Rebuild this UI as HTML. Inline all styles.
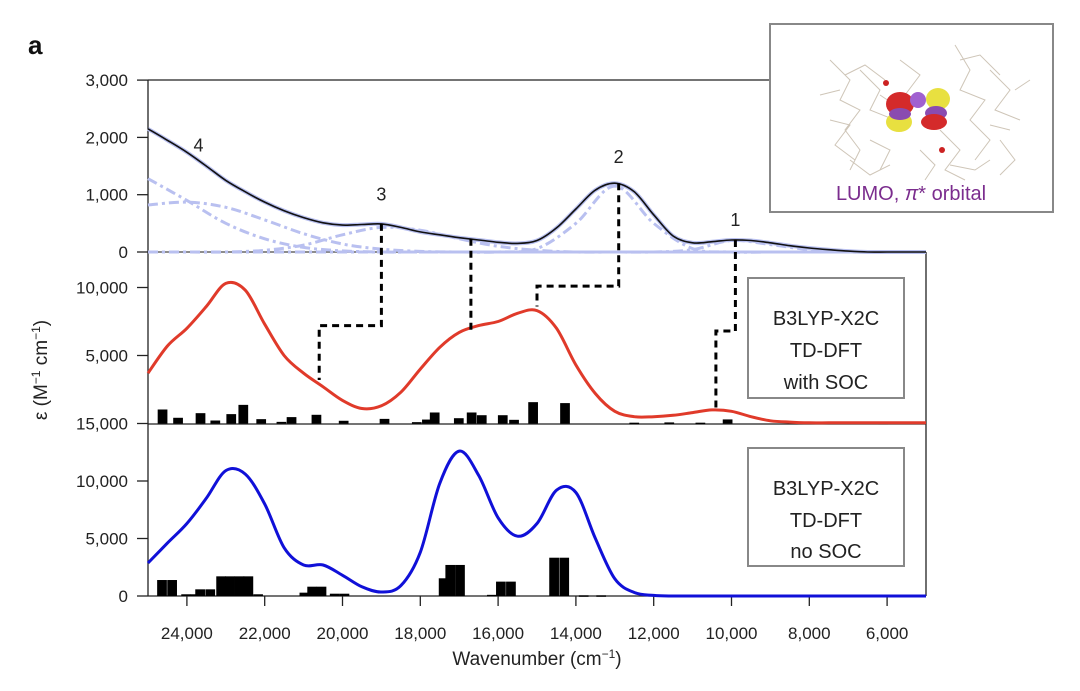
<!DOCTYPE html>
<html><head><meta charset="utf-8">
<style>
html,body{margin:0;padding:0;background:#fff;}
body{width:1080px;height:686px;overflow:hidden;position:relative;font-family:"Liberation Sans",sans-serif;}
svg text{font-family:"Liberation Sans",sans-serif;}
</style></head>
<body>
<svg id="chart" width="1080" height="686" viewBox="0 0 1080 686" xmlns="http://www.w3.org/2000/svg">
<text x="28" y="54" font-size="26" font-weight="bold" fill="#111">a</text>
<g id="axes"></g>
<g id="marks"></g>
<g>
<rect x="748" y="278" width="156" height="120" fill="#fff" stroke="#888" stroke-width="2"/>
<text x="826" y="325" font-size="20" text-anchor="middle" fill="#222">B3LYP-X2C</text>
<text x="826" y="357" font-size="20" text-anchor="middle" fill="#222">TD-DFT</text>
<text x="826" y="389" font-size="20" text-anchor="middle" fill="#222">with SOC</text>
</g>
<g>
<rect x="748" y="448" width="156" height="118" fill="#fff" stroke="#888" stroke-width="2"/>
<text x="826" y="495" font-size="20" text-anchor="middle" fill="#222">B3LYP-X2C</text>
<text x="826" y="527" font-size="20" text-anchor="middle" fill="#222">TD-DFT</text>
<text x="826" y="558" font-size="20" text-anchor="middle" fill="#222">no SOC</text>
</g>
<g>
<rect x="770" y="24" width="283" height="188" fill="#fff" stroke="#888" stroke-width="2"/>
<g stroke="#c9bfb0" stroke-width="1" fill="none" opacity="0.9">
<path d="M830 60 L850 80 L840 100 L860 110 L845 130 L860 150 L850 170 M860 70 L880 90 L870 110 L895 120 M900 60 L920 75 L905 95 M830 120 L850 125 L835 145 L855 160 M870 140 L890 150 L880 170 M955 45 L970 70 L960 90 L985 100 L970 120 L990 140 L975 160 M990 70 L1010 90 L995 110 L1020 120 M940 130 L960 150 L945 170 L965 180 M920 150 L935 165 L925 180 M1000 140 L1015 160 L1000 175 M820 95 L840 90 M1015 90 L1030 80"/>
<path d="M845 75 L865 65 L885 80 M960 60 L980 55 L1000 75 M850 160 L870 175 L890 165 M950 165 L975 170 L990 160 M880 95 L895 105 M990 125 L1010 130"/>
</g>
<ellipse cx="900" cy="104" rx="14" ry="12" fill="#d42a2a"/>
<ellipse cx="899" cy="122" rx="13" ry="10" fill="#e8e040"/>
<ellipse cx="900" cy="114" rx="11" ry="6" fill="#8a4bb0"/>
<circle cx="918" cy="100" r="8" fill="#a060d0"/>
<ellipse cx="938" cy="99" rx="12" ry="11" fill="#e8e040"/>
<ellipse cx="936" cy="113" rx="11" ry="7" fill="#8a4bb0"/>
<ellipse cx="934" cy="122" rx="13" ry="8" fill="#d42a2a"/>
<circle cx="886" cy="83" r="3" fill="#c22"/>
<circle cx="942" cy="150" r="3" fill="#c22"/>
<text x="911" y="200" font-size="20" text-anchor="middle" fill="#7b2d8e">LUMO, <tspan font-style="italic">π</tspan>* orbital</text>
</g>
<text x="537" y="665" font-size="19" text-anchor="middle" fill="#222">Wavenumber (cm<tspan baseline-shift="super" font-size="12">−1</tspan>)</text>
<text transform="translate(47,370) rotate(-90)" font-size="19" text-anchor="middle" fill="#222">ε (M<tspan baseline-shift="super" font-size="12">−1</tspan> cm<tspan baseline-shift="super" font-size="12">−1</tspan>)</text>
</svg>
<script>
// ---- data ----
const wnStep500 = [25000,24500,24000,23500,23000,22500,22000,21500,21000,20500,20000,19500,19000,18500,18000,17500,17000,16500,16000,15500,15000,14500,14000,13500,13000,12500,12000,11500,11000,10500,10000,9500,9000,8500,8000,7500,7000,6500,6000,5500,5000];
const expTotal = [2150,1950,1740,1500,1250,1050,870,720,600,510,470,480,490,430,350,300,250,210,170,150,200,420,750,1080,1200,1050,650,280,160,180,210,200,160,110,70,40,15,0,0,0,0];
const redSOC = [3700,5700,7000,8600,10300,9800,7300,5000,3700,2700,1700,1100,1300,2300,4000,5600,6700,7200,7500,8100,8300,7000,4300,2200,900,500,500,600,800,1000,900,500,200,100,50,50,50,50,50,50,50];
const blueNoSOC = [2870,4600,6300,8500,10900,10600,8000,4200,2700,2700,1800,800,350,900,3800,9800,12600,10500,6800,5200,6300,9200,9000,5000,1500,300,50,0,0,0,0,0,0,0,0,0,0,0,0,0,0];
const wnStep1000 = [25000,24000,23000,22000,21000,20000,19000,18000,17000,16000,15000,14000,13000,12000,11000,10000,9000,8000,7000,6000,5000];
const compA = [1280,900,500,230,80,20,0,0,0,0,0,0,0,0,0,0,0,0,0,0,0];
const compB = [820,870,780,560,320,140,50,10,0,0,0,0,0,0,0,0,0,0,0,0,0];
const compC = [0,0,0,30,120,300,430,380,230,100,30,0,0,0,0,0,0,0,0,0,0];
const compD = [0,0,0,0,0,0,0,0,0,0,60,500,1150,500,60,0,0,0,0,0,0];
const compE = [0,0,0,0,0,0,0,0,0,0,0,0,0,0,40,200,130,40,0,0,0];
const socStickWn = [24626,24227,23650,23270,22860,22550,22090,21570,21310,20670,19970,18920,18090,17830,17630,17010,16680,16420,15880,15590,15100,14280,12500,11600,10800,10100,6100];
const socStickVal = [1030,420,760,220,690,1370,320,120,470,640,200,340,100,290,810,390,810,610,610,270,1570,1500,60,80,60,300,60];
const noSocStickWn = [24640,24380,24020,23780,23660,23400,23120,22890,22650,22420,22170,20980,20780,20540,20200,19950,17400,17230,16980,16160,15928,15670,14560,14300,13800,13350];
const noSocStickVal = [1390,1390,150,150,580,580,1710,1710,1710,1710,150,290,810,810,200,200,1540,2700,2700,100,1250,1250,3330,3330,60,60];
const xTicks = [24000,22000,20000,18000,16000,14000,12000,10000,8000,6000];
const xTickLabels = ["24,000","22,000","20,000","18,000","16,000","14,000","12,000","10,000","8,000","6,000"];
const topTicks = [0,1000,2000,3000];
const topTickLabels = ["0","1,000","2,000","3,000"];
const midTicks = [0,5000,10000];
const midTickLabels = ["15,000","5,000","10,000"];
const botTicks = [0,5000,10000];
const botTickLabels = ["0","5,000","10,000"];
const peakWn = [9900,12900,19000,23700];
const peakLabels = ["1","2","3","4"];
const peakLabelVal = [450,1550,900,1750];

// ---- scales ----
const X0=148, X1=926;
const xs = w => X0 + (25000-w)*(X1-X0)/20000;
const yTop = v => 252 - v*0.0573;
const yMid = v => 423.5 - v*0.0136;
const yBot = v => 596 - v*0.0115;

const NS="http://www.w3.org/2000/svg";
const axes=document.getElementById('axes'), marks=document.getElementById('marks');
function mk(tag, attrs, parent){const e=document.createElementNS(NS,tag);for(const k in attrs)e.setAttribute(k,attrs[k]);parent.appendChild(e);return e;}
function smooth(pts){
  let d=`M${pts[0][0].toFixed(1)},${pts[0][1].toFixed(1)}`;
  for(let i=0;i<pts.length-1;i++){
    const p0=pts[Math.max(0,i-1)],p1=pts[i],p2=pts[i+1],p3=pts[Math.min(pts.length-1,i+2)];
    const c1=[p1[0]+(p2[0]-p0[0])/6,p1[1]+(p2[1]-p0[1])/6];
    const c2=[p2[0]-(p3[0]-p1[0])/6,p2[1]-(p3[1]-p1[1])/6];
    d+=`C${c1[0].toFixed(1)},${c1[1].toFixed(1)} ${c2[0].toFixed(1)},${c2[1].toFixed(1)} ${p2[0].toFixed(1)},${p2[1].toFixed(1)}`;
  }
  return d;
}

// ---- axes ----
let e;
e=mk('line',{x1:X0,y1:80,x2:770,y2:80,stroke:'#222','stroke-width':1.3},axes);


e=mk('line',{x1:X0,y1:80,x2:X0,y2:596,stroke:'#222','stroke-width':1.3},axes);


e=mk('line',{x1:X1,y1:252,x2:X1,y2:596,stroke:'#222','stroke-width':1.3},axes);


e=mk('line',{x1:X0,y1:252,x2:X1,y2:252,stroke:'#666','stroke-width':1.5},axes);


e=mk('line',{x1:X0,y1:424,x2:X1,y2:424,stroke:'#222','stroke-width':1.3},axes);


e=mk('line',{x1:X0,y1:596,x2:X1,y2:596,stroke:'#222','stroke-width':1.3},axes);



function yTicksDraw(vals, labels, sc, name){
  vals.forEach((v,i)=>{
    const y=sc(v);
    const t=mk('line',{x1:137,y1:y,x2:X0,y2:y,stroke:'#222','stroke-width':1.3},axes);
    
    
    const l=mk('text',{x:128,y:y+6,'font-size':17,'text-anchor':'end',fill:'#222'},axes);
    l.textContent=labels[i];
    
    
  });
}
yTicksDraw(topTicks,topTickLabels,yTop,'top-y');
yTicksDraw(midTicks,midTickLabels,yMid,'mid-y');
yTicksDraw(botTicks,botTickLabels,yBot,'bottom-y');

xTicks.forEach((w,i)=>{
  const x=xs(w);
  const t=mk('line',{x1:x,y1:596,x2:x,y2:606,stroke:'#222','stroke-width':1.3},axes);
  
  
  const l=mk('text',{x:x,y:639,'font-size':17,'text-anchor':'middle',fill:'#222'},axes);
  l.textContent=xTickLabels[i];
  
  
});

// ---- series ----
function line(wn, vals, sc, attrs, name){
  const p=mk('path',Object.assign({d:smooth(wn.map((w,i)=>[xs(w),sc(vals[i])])),fill:'none'},attrs),marks);
  
  
}
[compA,compB,compC,compD,compE].forEach((c,i)=>{
  line(wnStep1000,c,yTop,{stroke:'#b9c0f0','stroke-width':3,'stroke-dasharray':'10 4 3 4'},'fit-component-'+(i+1));
});
line(wnStep500,expTotal,yTop,{stroke:'#b9c0f0','stroke-width':4},'experimental-fit-total');
line(wnStep500,expTotal,yTop,{stroke:'#111','stroke-width':1.6},'experimental-spectrum');

function sticks(wn, vals, sc, name){
  const wpx=250*(X1-X0)/20000;
  wn.forEach((w,i)=>{
    const x=xs(w), y=sc(vals[i]), y0=sc(0);
    const r=mk('rect',{x:x-wpx/2,y:y,width:wpx,height:Math.max(1.5,y0-y),fill:'#000'},marks);
    
    
  });
}
sticks(socStickWn,socStickVal,yMid,'soc-oscillator-stick');
sticks(noSocStickWn,noSocStickVal,yBot,'no-soc-oscillator-stick');
line(wnStep500,redSOC,yMid,{stroke:'#e03a2a','stroke-width':3},'with-soc-spectrum');
line(wnStep500,blueNoSOC,yBot,{stroke:'#1010d8','stroke-width':3},'no-soc-spectrum');

// ---- assignment connectors (wavenumber/value pairs) ----
const conn = [
  [[19000,490,'t'],[19000,7200,'m'],[20600,7200,'m'],[20600,3200,'m']],
  [[16700,230,'t'],[16700,6800,'m']],
  [[12900,1200,'t'],[12900,10100,'m'],[15000,10100,'m'],[15000,8600,'m']],
  [[9900,210,'t'],[9900,6800,'m'],[10400,6800,'m'],[10400,1000,'m']]
];
conn.forEach(c=>{
  const pts=c.map(p=>`${xs(p[0]).toFixed(1)},${(p[2]==='t'?yTop(p[1]):yMid(p[1])).toFixed(1)}`).join(' ');
  const pl=mk('polyline',{points:pts,fill:'none',stroke:'#000','stroke-width':3,'stroke-dasharray':'7 5'},marks);
  
  
});
peakWn.forEach((w,i)=>{
  const t=mk('text',{x:xs(w),y:yTop(peakLabelVal[i]),'font-size':18,'text-anchor':'middle',fill:'#222'},marks);
  t.textContent=peakLabels[i];
  
  
});
</script>
</body></html>
